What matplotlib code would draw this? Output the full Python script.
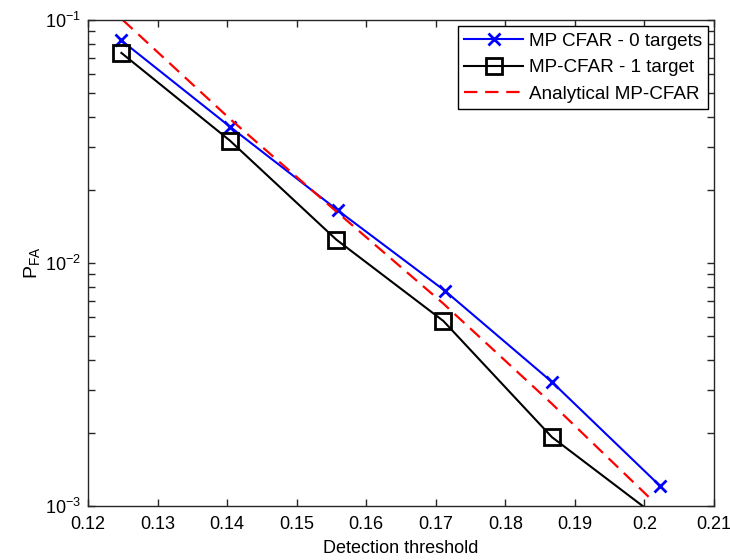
import matplotlib
matplotlib.use('Agg')
import matplotlib.pyplot as plt
from matplotlib.ticker import FixedLocator, LogLocator, NullFormatter

plt.rcParams['font.family'] = ['Liberation Sans', 'DejaVu Sans']
plt.rcParams['mathtext.default'] = 'regular'

# values
thr_0 = [0.1248, 0.1404, 0.1559, 0.1713, 0.1867, 0.2023]
pfa_0 = [0.0824, 0.0364, 0.01648, 0.00769, 0.00324, 0.001205]

thr_1 = [0.1248, 0.1404, 0.1557, 0.1711, 0.1867, 0.2023]
pfa_1 = [0.0732, 0.0319, 0.01248, 0.00577, 0.00192, 0.00088]

thr_an = [0.1250, 0.1404, 0.1558, 0.1711, 0.1866, 0.2012]
pfa_an = [0.1000, 0.0392, 0.0162, 0.0068, 0.00265, 0.00105]

xticks = [0.12, 0.13, 0.14, 0.15, 0.16, 0.17, 0.18, 0.19, 0.2, 0.21]
xlabels = ['0.12', '0.13', '0.14', '0.15', '0.16', '0.17', '0.18', '0.19', '0.2', '0.21']
yticks = [1e-3, 1e-2, 1e-1]
ylabels = ['$10^{-3}$', '$10^{-2}$', '$10^{-1}$']

fig = plt.figure(figsize=(7.3, 5.6), dpi=100)
ax = fig.add_axes([88 / 730, 54 / 560, 626 / 730, 486 / 560])

ax.plot(thr_0, pfa_0, color='blue', marker='x', markersize=9, markeredgewidth=2,
        linewidth=1.5, label='MP CFAR - 0 targets')
ax.plot(thr_1, pfa_1, color='black', marker='s', markersize=11, markerfacecolor='none',
        markeredgewidth=2, linewidth=1.5, label='MP-CFAR - 1 target')
ax.plot(thr_an, pfa_an, color='red', linestyle=(0, (6, 3.5)), linewidth=1.6,
        label='Analytical MP-CFAR')

ax.set_yscale('log')
ax.set_xlim(0.12, 0.21)
ax.set_ylim(1e-3, 1e-1)

ax.xaxis.set_major_locator(FixedLocator(xticks))
ax.set_xticklabels(xlabels)
ax.yaxis.set_major_locator(FixedLocator(yticks))
ax.set_yticklabels(ylabels)
ax.yaxis.set_minor_locator(LogLocator(base=10, subs=range(2, 10)))
ax.yaxis.set_minor_formatter(NullFormatter())

ax.tick_params(which='both', direction='in', top=True, right=True, labelsize=13,
               width=1, color='#262626')
ax.tick_params(which='major', length=5)
ax.tick_params(which='minor', length=5)
ax.tick_params(axis='x', pad=7)
ax.tick_params(axis='y', pad=5)
for s in ax.spines.values():
    s.set_linewidth(1)
    s.set_color('#262626')

ax.set_xlabel('Detection threshold', fontsize=13, labelpad=5)
ax.set_ylabel('$P_{FA}$', fontsize=14, labelpad=2)

leg = ax.legend(loc='upper right', fontsize=13.6, frameon=True, fancybox=False,
                edgecolor='black', framealpha=1, borderaxespad=0.3,
                handlelength=3.1, handletextpad=0.3, labelspacing=0.5,
                borderpad=0.35)
leg.get_frame().set_linewidth(1)

fig.savefig('out.png', dpi=100, facecolor='white')
